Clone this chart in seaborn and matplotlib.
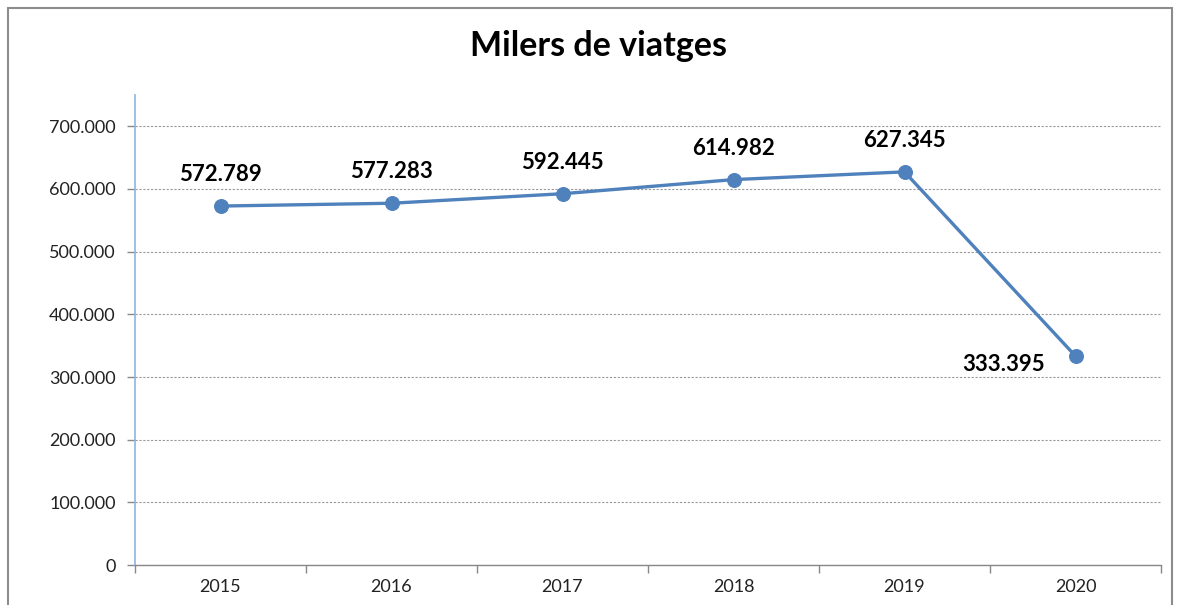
import numpy as np
import matplotlib
matplotlib.use("Agg")
import matplotlib.pyplot as plt
import matplotlib.ticker as mticker
from matplotlib.patches import Rectangle
import seaborn as sns
import pandas as pd

# dades
anys = ["2015", "2016", "2017", "2018", "2019", "2020"]
viatges = [572789, 577283, 592445, 614982, 627345, 333395]
etiquetes = ["572.789", "577.283", "592.445", "614.982", "627.345", "333.395"]

LINE_COLOR = "#4F81BD"

sns.set_theme(style="white")
plt.rcParams['font.family'] = ['Lato', 'DejaVu Sans']

df = pd.DataFrame({"pos": np.arange(len(anys)), "viatges": viatges})

fig = plt.figure(figsize=(11.8, 6.05), dpi=100)
ax = fig.add_axes([135/1180, 40/605, (1161-135)/1180, (565-95)/605])

sns.lineplot(data=df, x="pos", y="viatges", ax=ax, color=LINE_COLOR,
             linewidth=2.4, marker="o", markersize=10,
             markeredgecolor=LINE_COLOR, markerfacecolor=LINE_COLOR)

# etiquetes de dades
for i, (v, txt) in enumerate(zip(viatges, etiquetes)):
    if i == len(anys) - 1:
        ax.annotate(txt, (i, v), xytext=(-52, -6), textcoords="offset points",
                    ha="center", va="center", fontsize=16, fontweight="bold", color="black")
    else:
        ax.annotate(txt, (i, v), xytext=(0, 15), textcoords="offset points",
                    ha="center", va="bottom", fontsize=16, fontweight="bold", color="black")

ax.set_xlim(-0.5, len(anys) - 0.5)
ax.set_ylim(0, 750000)
ax.set_yticks(np.arange(0, 700001, 100000))
ax.yaxis.set_major_formatter(mticker.FuncFormatter(
    lambda v, p: "0" if v == 0 else f"{int(v):,}".replace(",", ".")))
ax.set_xticks(np.arange(len(anys)))
ax.set_xticklabels(anys)
ax.set_xticks(np.arange(-0.5, len(anys)), minor=True)
ax.tick_params(axis="x", which="major", length=0, pad=10, labelsize=13, colors="#222222")
ax.tick_params(axis="x", which="minor", length=6, width=1, color="#888888", direction="out")
ax.tick_params(axis="y", which="major", length=6, width=1, color="#888888", direction="out",
               labelsize=13, labelcolor="#222222", pad=8)
ax.tick_params(left=True, bottom=True, which="both")

ax.grid(axis="y", color="#999999", linestyle=(0, (2, 1.5)), linewidth=0.8)
ax.set_axisbelow(True)

for s in ["top", "right"]:
    ax.spines[s].set_visible(False)
ax.spines["left"].set_color("#8EB4E3")
ax.spines["left"].set_linewidth(1.2)
ax.spines["bottom"].set_color("#888888")
ax.spines["bottom"].set_linewidth(1)

ax.set_xlabel("")
ax.set_ylabel("")

fig.text(598/1180, 1 - 46/605, "Milers de viatges", ha="center", va="center",
         fontsize=24.5, fontweight="bold", color="black")

# marc exterior
fig.patches.append(Rectangle((8/1180, -0.02), (1172-8)/1180, 1.02 - 8/605,
                             transform=fig.transFigure, fill=False,
                             edgecolor="#8C8C8C", linewidth=1.5))

fig.savefig("out.png", dpi=100)
